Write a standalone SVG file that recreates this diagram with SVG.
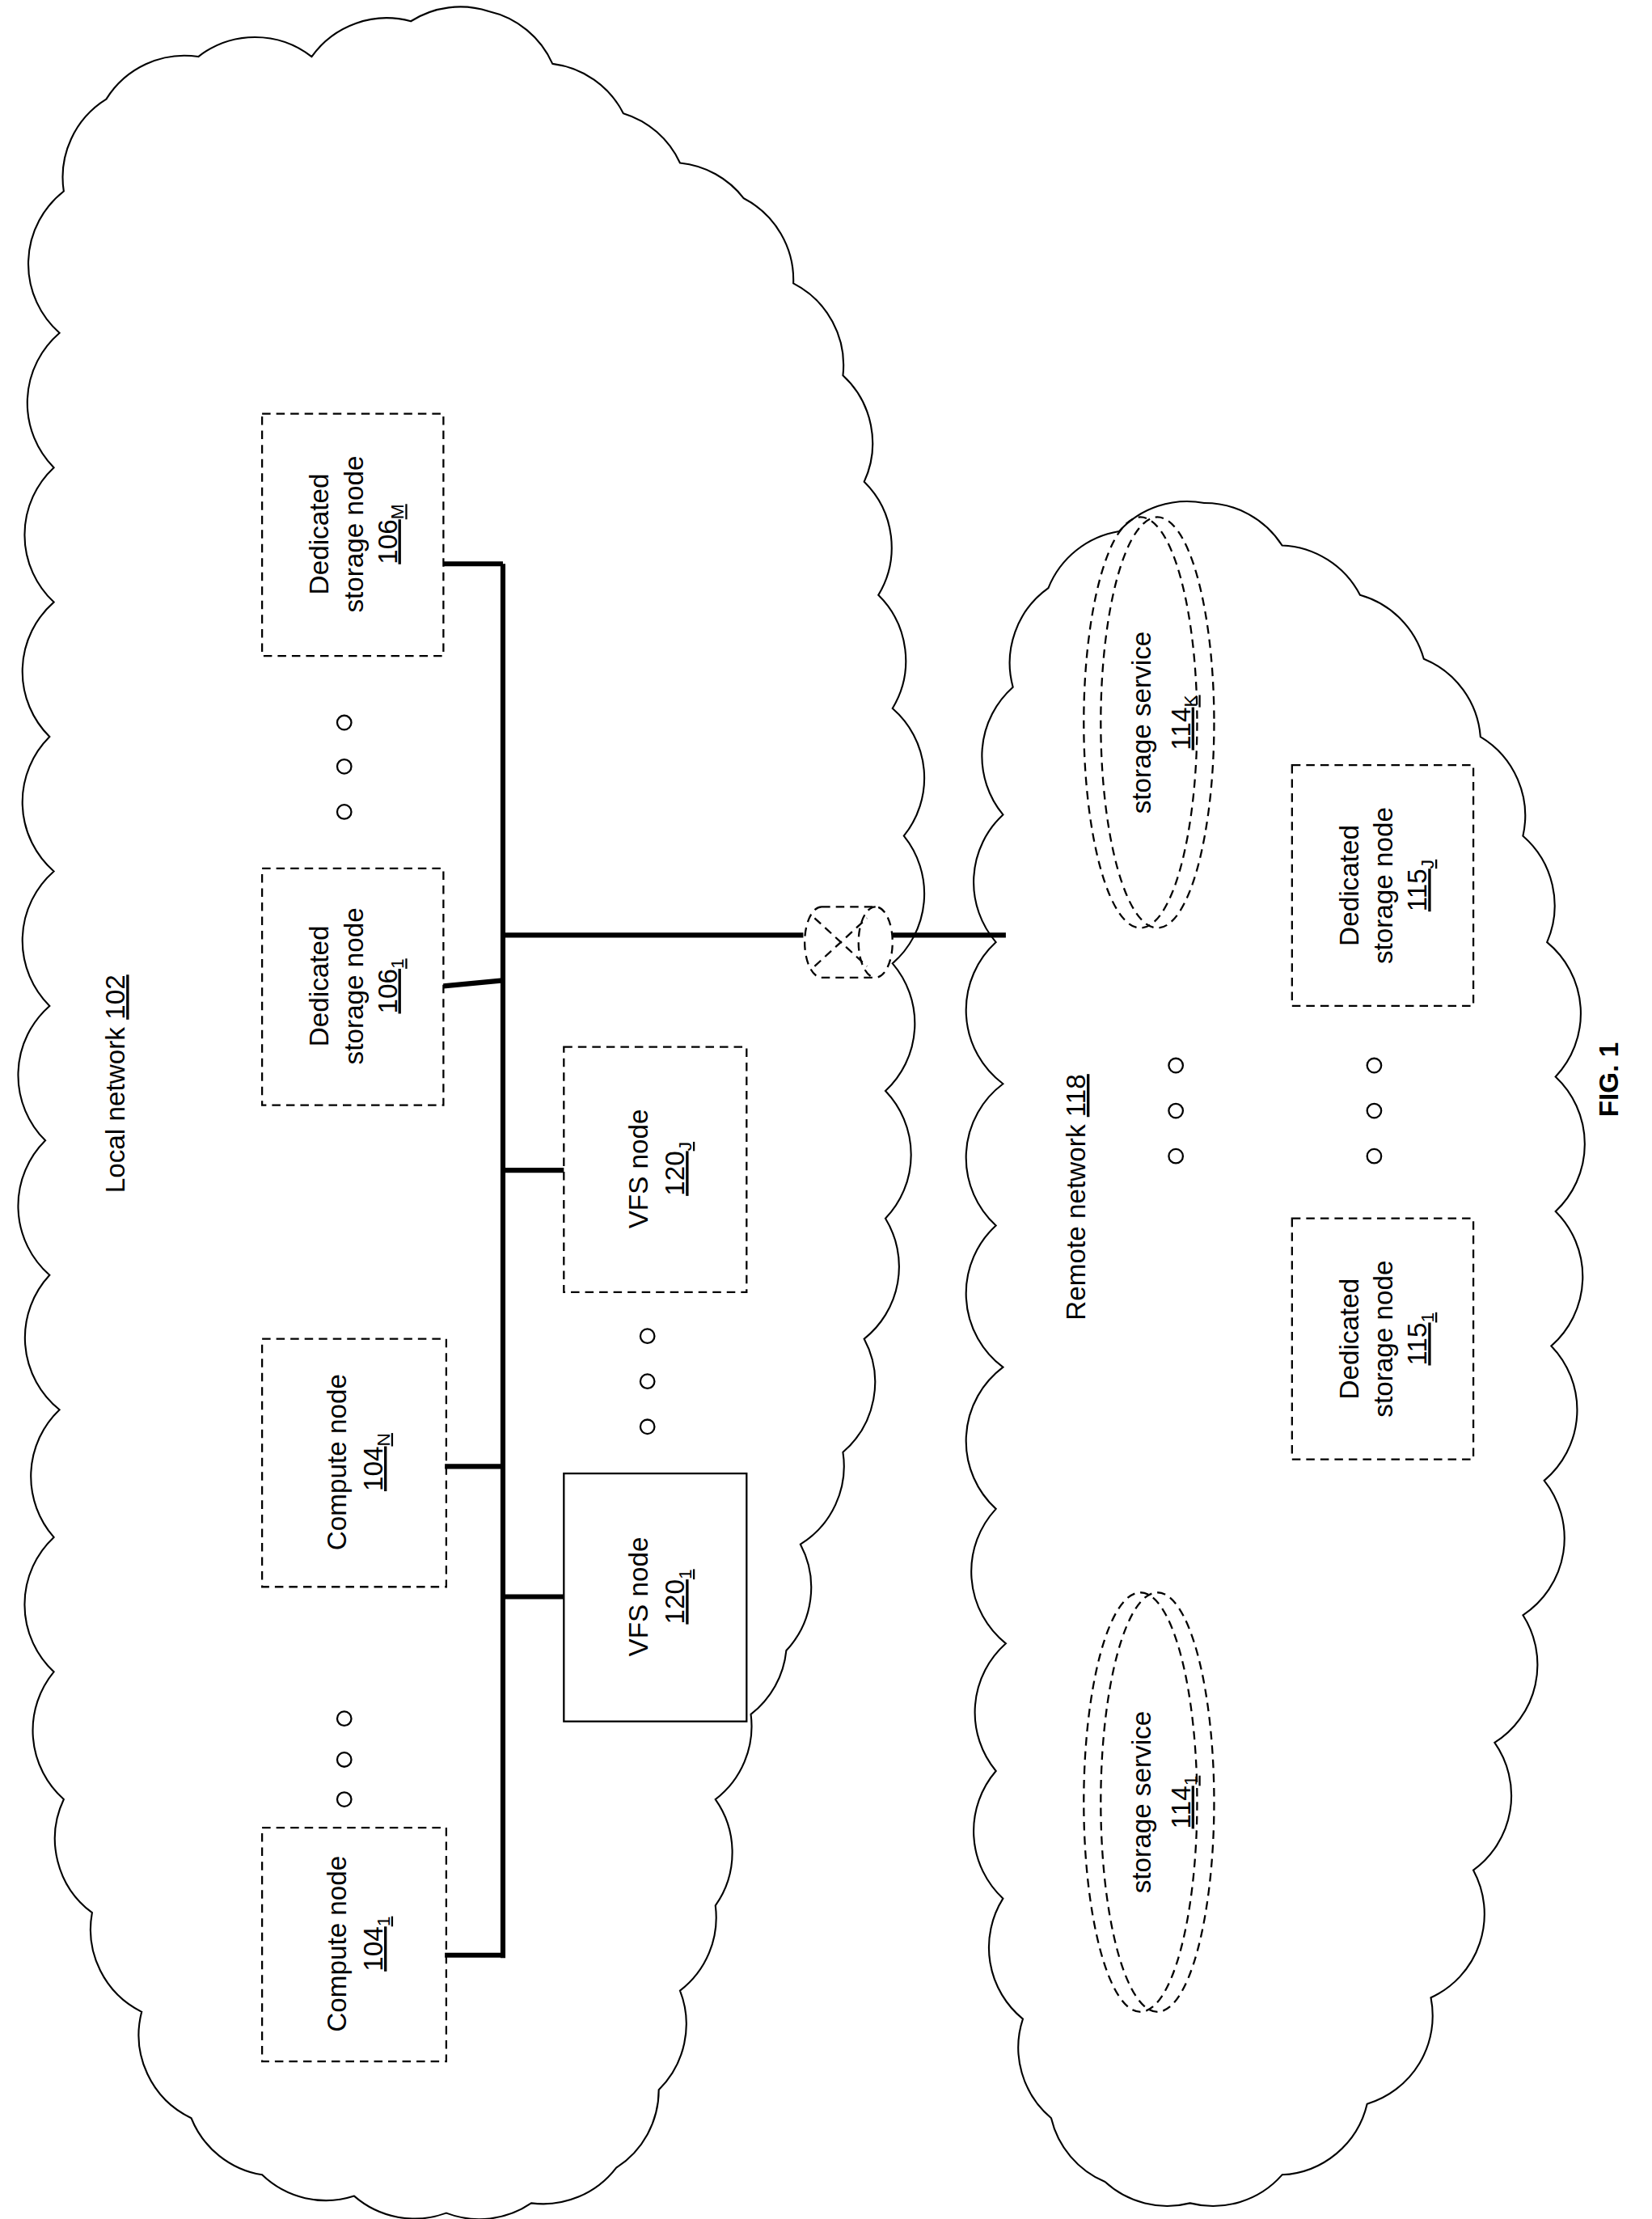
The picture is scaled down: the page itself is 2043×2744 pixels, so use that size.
<svg xmlns="http://www.w3.org/2000/svg" width="2043" height="2744" viewBox="0 0 2043 2744">
<style>
.d{fill:none;stroke:#000;stroke-width:1.3;stroke-dasharray:6 4}
.s{fill:none;stroke:#000;stroke-width:1.3}
.b{fill:none;stroke:#000;stroke-width:3.5}
.c{fill:none;stroke:#000;stroke-width:1.2}
text{font-family:"Liberation Sans",Arial,sans-serif;font-size:19px;fill:#000}
.dot{fill:none;stroke:#000;stroke-width:1.3}
</style>
<rect width="2043" height="2744" fill="#fff"/>
<g transform="scale(1.752)">
<g id="clouds">
<path class="c" d="M45,135 A65,65 0 0 1 75,70 A65,65 0 0 1 140,40 A65,65 0 0 1 220,40 A65,65 0 0 1 290,15 A65,65 0 0 1 345,8 A65,65 0 0 1 390,45 A65,65 0 0 1 440,80 A65,65 0 0 1 480,115 A65,65 0 0 1 525,140 A65,65 0 0 1 560,200 A65,65 0 0 1 595,265 A65,65 0 0 1 610,340 A65,65 0 0 1 620,420 A65,65 0 0 1 630,500 A65,65 0 0 1 638,590 A65,65 0 0 1 630,680 A65,65 0 0 1 625,770 A65,65 0 0 1 625,860 A65,65 0 0 1 610,945 A65,65 0 0 1 595,1025 A65,65 0 0 1 565,1090 A65,65 0 0 1 555,1165 A65,65 0 0 1 530,1210 A65,65 0 0 1 505,1270 A65,65 0 0 1 505,1345 A65,65 0 0 1 480,1405 A65,65 0 0 1 465,1475 A65,65 0 0 1 435,1530 A65,65 0 0 1 375,1555 A65,65 0 0 1 315,1562 A65,65 0 0 1 250,1550 A65,65 0 0 1 185,1535 A65,65 0 0 1 135,1495 A65,65 0 0 1 100,1420 A65,65 0 0 1 65,1350 A65,65 0 0 1 45,1270 A65,65 0 0 1 38,1180 A65,65 0 0 1 38,1085 A65,65 0 0 1 42,995 A65,65 0 0 1 35,900 A65,65 0 0 1 32,805 A65,65 0 0 1 35,710 A65,65 0 0 1 38,615 A65,65 0 0 1 35,520 A65,65 0 0 1 38,425 A65,65 0 0 1 38,330 A65,65 0 0 1 42,235 A65,65 0 0 1 45,135 Z"/>
<path class="c" d="M715,485 A65,65 0 0 1 740,415 A65,65 0 0 1 790,375 A65,65 0 0 1 850,355 A65,65 0 0 1 905,385 A65,65 0 0 1 960,420 A65,65 0 0 1 1005,465 A65,65 0 0 1 1045,520 A65,65 0 0 1 1075,590 A65,65 0 0 1 1092,665 A65,65 0 0 1 1098,760 A65,65 0 0 1 1098,855 A65,65 0 0 1 1095,950 A65,65 0 0 1 1090,1045 A65,65 0 0 1 1075,1140 A65,65 0 0 1 1055,1230 A65,65 0 0 1 1040,1320 A65,65 0 0 1 1010,1410 A65,65 0 0 1 965,1485 A65,65 0 0 1 905,1535 A65,65 0 0 1 840,1555 A65,65 0 0 1 780,1540 A65,65 0 0 1 742,1495 A65,65 0 0 1 722,1425 A65,65 0 0 1 708,1340 A65,65 0 0 1 703,1250 A65,65 0 0 1 710,1160 A65,65 0 0 1 703,1065 A65,65 0 0 1 708,965 A65,65 0 0 1 703,865 A65,65 0 0 1 708,765 A65,65 0 0 1 703,665 A65,65 0 0 1 708,575 A65,65 0 0 1 715,485 Z"/>
</g>
<g id="connectors">
<line class="b" x1="355" y1="398" x2="355" y2="1382"/>
<line class="b" x1="314" y1="1380" x2="355" y2="1380"/>
<line class="b" x1="314" y1="1035" x2="355" y2="1035"/>
<line class="b" x1="355" y1="1127" x2="398" y2="1127"/>
<line class="b" x1="355" y1="826" x2="398" y2="826"/>
<line class="b" x1="313" y1="696" x2="355" y2="692"/>
<line class="b" x1="313" y1="398" x2="355" y2="398"/>
<line class="b" x1="355" y1="660" x2="567" y2="660"/>
<line class="b" x1="630" y1="660" x2="710" y2="660"/>
</g>
<g id="router">
<path class="d" d="M580,640 L618,640 A12,25 0 0 1 618,690 L580,690 A12,25 0 0 1 580,640 Z"/>
<path class="d" d="M618,640 A12,25 0 0 0 618,690"/>
<path class="d" d="M575,648 L612,682 M575,682 L612,648"/>
</g>
<g id="local-label"><text transform="translate(88,765) rotate(-90)" text-anchor="middle">Local network <tspan text-decoration="underline">102</tspan></text></g>
<g id="compute1"><rect class="d" x="185" y="1290" width="130" height="165"/>
<text transform="translate(250,1372) rotate(-90)" text-anchor="middle"><tspan x="0" dy="-6">Compute node</tspan><tspan x="0" dy="26" text-decoration="underline">104<tspan font-size="13" dy="5">1</tspan></tspan></text></g>
<g id="computeN"><rect class="d" x="185" y="945" width="130" height="175"/>
<text transform="translate(250,1032) rotate(-90)" text-anchor="middle"><tspan x="0" dy="-6">Compute node</tspan><tspan x="0" dy="26" text-decoration="underline">104<tspan font-size="13" dy="5">N</tspan></tspan></text></g>
<g id="ds1061"><rect class="d" x="185" y="613" width="128" height="167"/>
<text transform="translate(250,696) rotate(-90)" text-anchor="middle"><tspan x="0" dy="-18">Dedicated</tspan><tspan x="0" dy="24">storage node</tspan><tspan x="0" dy="24" text-decoration="underline">106<tspan font-size="13" dy="5">1</tspan></tspan></text></g>
<g id="ds106M"><rect class="d" x="185" y="292" width="128" height="171"/>
<text transform="translate(250,377) rotate(-90)" text-anchor="middle"><tspan x="0" dy="-18">Dedicated</tspan><tspan x="0" dy="24">storage node</tspan><tspan x="0" dy="24" text-decoration="underline">106<tspan font-size="13" dy="5">M</tspan></tspan></text></g>
<g id="vfsJ"><rect class="d" x="398" y="739" width="129" height="173"/>
<text transform="translate(463,825) rotate(-90)" text-anchor="middle"><tspan x="0" dy="-6">VFS node</tspan><tspan x="0" dy="26" text-decoration="underline">120<tspan font-size="13" dy="5">J</tspan></tspan></text></g>
<g id="vfs1"><rect class="s" x="398" y="1040" width="129" height="175"/>
<text transform="translate(463,1127) rotate(-90)" text-anchor="middle"><tspan x="0" dy="-6">VFS node</tspan><tspan x="0" dy="26" text-decoration="underline">120<tspan font-size="13" dy="5">1</tspan></tspan></text></g>
<g id="dots">
<circle class="dot" cx="243" cy="1213" r="5"/><circle class="dot" cx="243" cy="1242" r="5"/><circle class="dot" cx="243" cy="1270" r="5"/>
<circle class="dot" cx="243" cy="510" r="5"/><circle class="dot" cx="243" cy="541" r="5"/><circle class="dot" cx="243" cy="573" r="5"/>
<circle class="dot" cx="457" cy="943" r="5"/><circle class="dot" cx="457" cy="975" r="5"/><circle class="dot" cx="457" cy="1007" r="5"/>
<circle class="dot" cx="830" cy="752" r="5"/><circle class="dot" cx="830" cy="784" r="5"/><circle class="dot" cx="830" cy="816" r="5"/>
<circle class="dot" cx="970" cy="752" r="5"/><circle class="dot" cx="970" cy="784" r="5"/><circle class="dot" cx="970" cy="816" r="5"/>
</g>
<g id="remote-label"><text transform="translate(766,845) rotate(-90)" text-anchor="middle">Remote network <tspan text-decoration="underline">118</tspan></text></g>
<g id="ss114K"><ellipse class="d" cx="805" cy="510" rx="40" ry="145"/><ellipse class="d" cx="817" cy="510" rx="40" ry="145"/>
<text transform="translate(818,510) rotate(-90)" text-anchor="middle"><tspan x="0" dy="-6">storage service</tspan><tspan x="0" dy="28" text-decoration="underline">114<tspan font-size="13" dy="5">K</tspan></tspan></text></g>
<g id="ss1141"><ellipse class="d" cx="805" cy="1272" rx="40" ry="148"/><ellipse class="d" cx="817" cy="1272" rx="40" ry="148"/>
<text transform="translate(818,1272) rotate(-90)" text-anchor="middle"><tspan x="0" dy="-6">storage service</tspan><tspan x="0" dy="28" text-decoration="underline">114<tspan font-size="13" dy="5">1</tspan></tspan></text></g>
<g id="ds115J"><rect class="d" x="912" y="540" width="128" height="170"/>
<text transform="translate(977,625) rotate(-90)" text-anchor="middle"><tspan x="0" dy="-18">Dedicated</tspan><tspan x="0" dy="24">storage node</tspan><tspan x="0" dy="24" text-decoration="underline">115<tspan font-size="13" dy="5">J</tspan></tspan></text></g>
<g id="ds1151"><rect class="d" x="912" y="860" width="128" height="170"/>
<text transform="translate(977,945) rotate(-90)" text-anchor="middle"><tspan x="0" dy="-18">Dedicated</tspan><tspan x="0" dy="24">storage node</tspan><tspan x="0" dy="24" text-decoration="underline">115<tspan font-size="13" dy="5">1</tspan></tspan></text></g>
<g id="fig"><text transform="translate(1142,762) rotate(-90)" text-anchor="middle" font-weight="bold" font-size="24">FIG. 1</text></g>
</g>
</svg>
